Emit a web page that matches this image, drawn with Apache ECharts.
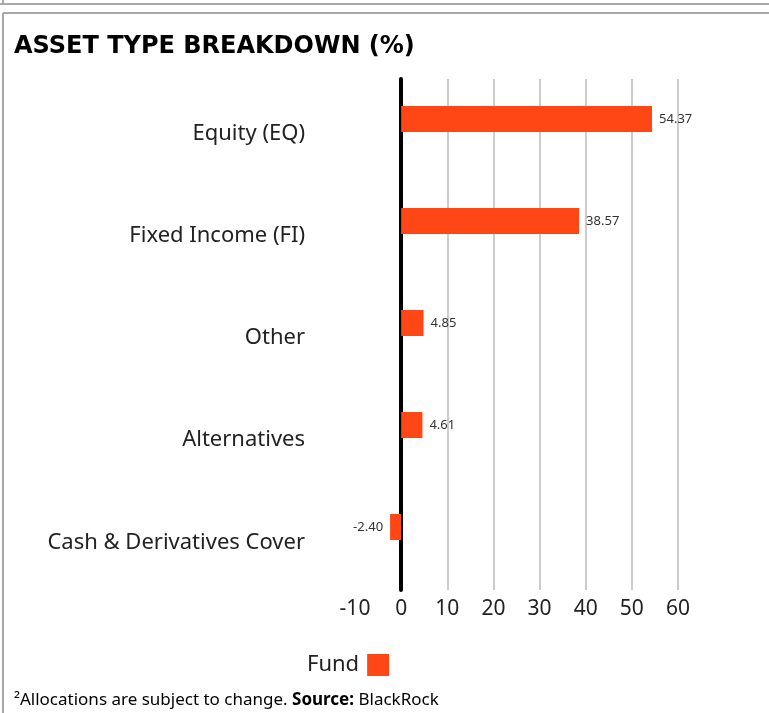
<!DOCTYPE html>
<html>
<head>
<meta charset="utf-8">
<script src="https://cdn.jsdelivr.net/npm/echarts@6/dist/echarts.min.js"></script>
<style>
  html, body { margin: 0; padding: 0; background: #fff; }
  #chart { width: 769px; height: 713px; }
</style>
</head>
<body>
<div id="chart"></div>
<script>
// data
const categories = ['Equity (EQ)', 'Fixed Income (FI)', 'Other', 'Alternatives', 'Cash & Derivatives Cover'];
const fundValues = [54.37, 38.57, 4.85, 4.61, -2.40];
const seriesName = 'Fund';
const xMin = -10;
const xMax = 60;
const xStep = 10;

const orange = '#fe4715';
const font = '"Noto Sans", sans-serif';

const chart = echarts.init(document.getElementById('chart'));

chart.setOption({
    animation: false,
    backgroundColor: '#fff',
    title: {
        text: 'ASSET TYPE BREAKDOWN (%)',
        left: 9,
        top: 30,
        textStyle: {
            fontFamily: '"DejaVu Sans", sans-serif',
            fontWeight: 'bold',
            fontSize: 24,
            color: '#000'
        }
    },
    legend: {
        data: [seriesName],
        left: 302,
        top: 649,
        align: 'right',
        itemWidth: 22,
        itemHeight: 22,
        icon: 'rect',
        textStyle: { fontFamily: font, fontSize: 22, color: '#222', padding: [0, 3, 0, 0] }
    },
    grid: [
        // grid 0: gridlines, zero line, tick and category labels
        { left: 355, right: 91, top: 79, height: 511 },
        // grid 1: the bars, sitting a little higher like the reference
        { left: 355, right: 91, top: 68, height: 510 }
    ],
    xAxis: [
        {
            gridIndex: 0,
            type: 'value',
            min: xMin,
            max: xMax,
            interval: xStep,
            axisLine: { show: false },
            axisTick: { show: false },
            splitLine: { showMinLine: false, lineStyle: { color: '#cccccc', width: 2 } },
            axisLabel: {
                margin: 9,
                fontFamily: font,
                fontSize: 21,
                color: '#222'
            }
        },
        {
            gridIndex: 1,
            type: 'value',
            min: xMin,
            max: xMax,
            interval: xStep,
            show: false
        }
    ],
    yAxis: [
        {
            gridIndex: 0,
            type: 'category',
            data: categories,
            inverse: true,
            axisLine: { onZero: true, lineStyle: { color: '#000', width: 4 } },
            axisTick: { show: false },
            axisLabel: {
                margin: 50,
                verticalAlign: 'top',
                lineHeight: 7,
                fontFamily: font,
                fontSize: 22,
                color: '#222'
            }
        },
        {
            gridIndex: 1,
            type: 'category',
            data: categories,
            inverse: true,
            show: false
        }
    ],
    series: [
        {
            name: seriesName,
            type: 'bar',
            xAxisIndex: 1,
            yAxisIndex: 1,
            barWidth: 26,
            data: fundValues.map(v => ({
                value: v,
                label: { position: v < 0 ? 'left' : 'right' }
            })),
            itemStyle: { color: orange },
            label: {
                show: true,
                distance: 7,
                fontFamily: font,
                fontSize: 13,
                color: '#333',
                formatter: p => p.value.toFixed(2)
            }
        }
    ],
    graphic: [
        // outer frame lines
        { type: 'line', shape: { x1: 0, y1: 4, x2: 769, y2: 4 }, style: { stroke: '#a8a8a8', lineWidth: 2 } },
        { type: 'line', shape: { x1: 3, y1: 0, x2: 3, y2: 4 }, style: { stroke: '#a8a8a8', lineWidth: 2 } },
        { type: 'line', shape: { x1: 3, y1: 13, x2: 769, y2: 13 }, style: { stroke: '#a8a8a8', lineWidth: 2 } },
        { type: 'line', shape: { x1: 3, y1: 13, x2: 3, y2: 713 }, style: { stroke: '#a8a8a8', lineWidth: 2 } },
        {
            type: 'text',
            left: 14,
            top: 692,
            style: {
                text: '{n|²Allocations are subject to change. }{b|Source:}{n| BlackRock}',
                rich: {
                    n: { fontFamily: font, fontSize: 17, color: '#222' },
                    b: { fontFamily: font, fontSize: 17, fontWeight: 'bold', color: '#111' }
                }
            }
        }
    ]
});
</script>
</body>
</html>
